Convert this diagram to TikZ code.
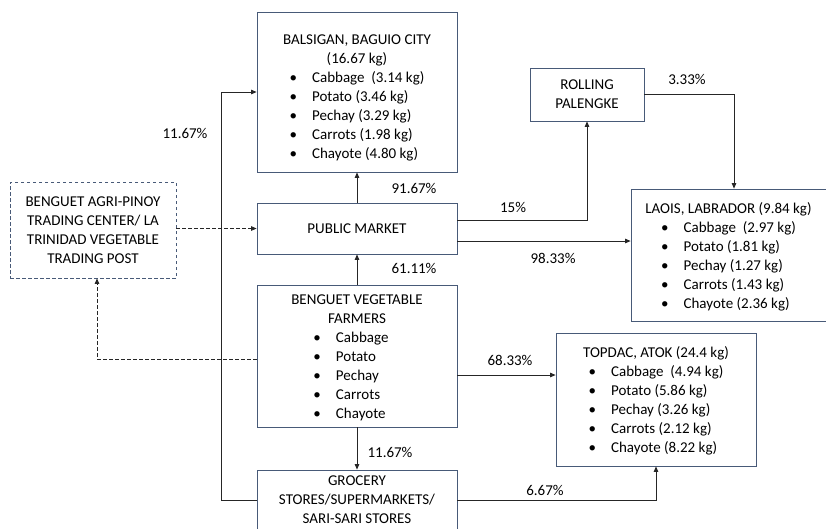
\documentclass[tikz,border=0pt]{standalone}
\usepackage{fontspec}
\setmainfont{Carlito}
\usepackage{xcolor}
\usetikzlibrary{positioning, arrows.meta}
\definecolor{boxline}{RGB}{72,90,120}
\definecolor{flowline}{RGB}{38,38,38}
\tikzset{
  farmbox/.style={
    draw=boxline, line width=0.8pt,
    align=center, inner sep=0pt,
    font=\fontsize{15}{19}\selectfont
  },
  tradebox/.style={farmbox, dash pattern=on 3.5pt off 2.5pt},
  flow/.style={draw=flowline, line width=0.8pt, -{Triangle[length=5.5pt, width=4.5pt]}},
  pct/.style={font=\fontsize{15}{19}\selectfont, inner sep=0pt},
}
\newcommand{\kglist}[1]{\begin{tabular}[t]{@{}l@{}}#1\end{tabular}}
\newcommand{\itm}{\makebox[22.5pt][l]{\textbullet}}

\begin{document}
\begin{tikzpicture}[x=1pt, y=-1pt]
  \useasboundingbox (0,0) rectangle (826,528);

  % middle column
  \node[farmbox, minimum width=200pt, minimum height=160pt] (bal) at (357,92)
    {\rule{0pt}{24pt}BALSIGAN, BAGUIO CITY\\(16.67 kg)\\
     \kglist{\itm Cabbage\ \ (3.14 kg)\\\itm Potato (3.46 kg)\\\itm Pechay (3.29 kg)\\
             \itm Carrots (1.98 kg)\\\itm Chayote (4.80 kg)}};
  \node[farmbox, minimum width=200pt, minimum height=51pt] (pm) at (357,228.5) {PUBLIC MARKET};
  \node[farmbox, minimum width=200pt, minimum height=142pt] (farm) at (357,356)
    {\rule{0pt}{17pt}BENGUET VEGETABLE\\FARMERS\\
     \hspace*{-12pt}\kglist{\itm Cabbage\\\itm Potato\\\itm Pechay\\\itm Carrots\\\itm Chayote}};
  \node[farmbox, minimum width=200pt, minimum height=60pt] (groc) at (357,500)
    {GROCERY\\STORES/SUPERMARKETS/\\SARI-SARI STORES};

  % left and right
  \node[tradebox, minimum width=166pt, minimum height=96pt] (agri) at (93,230)
    {BENGUET AGRI-PINOY\\TRADING CENTER/ LA\\TRINIDAD VEGETABLE\\TRADING POST};
  \node[farmbox, minimum width=114pt, minimum height=53pt] (roll) at (587,94.5) {ROLLING\\PALENGKE};
  \node[farmbox, minimum width=195pt, minimum height=132pt] (lao) at (728.5,255)
    {\rule{0pt}{17pt}LAOIS, LABRADOR (9.84 kg)\\
     \kglist{\itm Cabbage\ \ (2.97 kg)\\\itm Potato (1.81 kg)\\\itm Pechay (1.27 kg)\\
             \itm Carrots (1.43 kg)\\\itm Chayote (2.36 kg)}};
  \node[farmbox, minimum width=200pt, minimum height=133pt] (tdc) at (656,399.5)
    {\rule{0pt}{17pt}TOPDAC, ATOK (24.4 kg)\\
     \kglist{\itm Cabbage\ \ (4.94 kg)\\\itm Potato (5.86 kg)\\\itm Pechay (3.26 kg)\\
             \itm Carrots (2.12 kg)\\\itm Chayote (8.22 kg)}};

  % straight flows
  \draw[flow] (pm.north) -- (bal.south);
  \draw[flow] (farm.north) -- (pm.south);
  \draw[flow] (farm.south) -- (groc.north);
  \draw[flow] ([yshift=-12.5pt]pm.east) -- ([yshift=-12.5pt]pm.east -| lao.west);
  \draw[flow] ([yshift=-19pt]farm.east) -- ([yshift=-19pt]farm.east -| tdc.west);

  % elbow flows
  \draw[flow] ([yshift=8.5pt]pm.east) -| (roll.south);
  \draw[flow] (roll.east) -| ([xshift=5.5pt]lao.north);
  \draw[flow] (groc.east) -| (tdc.south);
  \draw[flow] (groc.west) -- ++(-35,0) |- (bal.west);

  % trading post (dashed)
  \draw[flow, dash pattern=on 3.5pt off 2.5pt] (agri.east |- pm.west) -- (pm.west);
  \draw[flow, dash pattern=on 3.5pt off 2.5pt] ([yshift=-3pt]farm.west) -| ([xshift=4pt]agri.south);

  % shares
  \node[pct] (s1) at (414,188) {91.67\%};
  \node[pct] (s2) at (414,268) {61.11\%};
  \node[pct] (s3) at (390,452) {11.67\%};
  \node[pct] (s4) at (185,133) {11.67\%};
  \node[pct] (s5) at (513,207) {15\%};
  \node[pct] (s6) at (553,258) {98.33\%};
  \node[pct] (s7) at (687,79) {3.33\%};
  \node[pct] (s8) at (510,360) {68.33\%};
  \node[pct] (s9) at (545,490) {6.67\%};
\end{tikzpicture}
\end{document}
